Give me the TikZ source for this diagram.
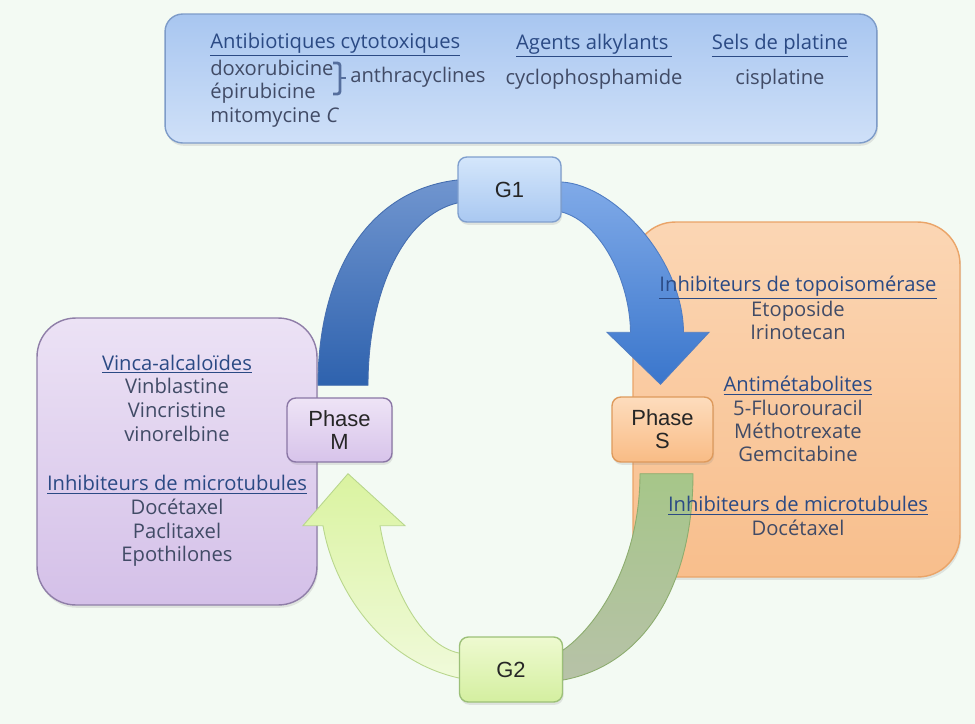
\documentclass[tikz,border=0pt]{standalone}
\usepackage{fontspec}
\setmainfont{Open Sans}
\newfontfamily\phasefont{Liberation Sans}
\usetikzlibrary{shapes,arrows.meta,positioning,backgrounds,calc,shadows}
\usepackage{xcolor}

\definecolor{paper}{HTML}{F3FAF3}
\definecolor{inkbody}{HTML}{414B66}
\definecolor{inkhead}{HTML}{2B4A84}

\pgfdeclarelayer{boxes}
\pgfdeclarelayer{bands}
\pgfsetlayers{boxes,bands,main}

\begin{document}
\begin{tikzpicture}[
    x=0.02cm, y=-0.02cm,
    softshadow/.style={drop shadow={opacity=0.18, shadow xshift=0.6pt, shadow yshift=-1.6pt}},
    panel/.style={rectangle, thick, inner sep=0pt, softshadow},
    phase/.style={rectangle, rounded corners=5pt, thick, inner sep=0pt, softshadow, font=\phasefont\fontsize{12.5}{13.2}\selectfont, text=black!85, align=center},
    head/.style={inner sep=0pt, text=inkhead, font=\fontsize{11.5}{13.2}\selectfont},
    drug/.style={inner sep=0pt, text=inkbody, align=center, font=\fontsize{11.5}{13.2}\selectfont},
    band/.style={line width=0.5pt}
]
\useasboundingbox (0,0) rectangle (975,724);

% Panels
\begin{pgfonlayer}{boxes}
\fill [paper] (0,0) rectangle (975,724);
\node (classes) [panel, rounded corners=10pt, draw={rgb,255:red,126;green,156;blue,201}, top color={rgb,255:red,168;green,198;blue,240}, bottom color={rgb,255:red,207;green,224;blue,248}, minimum width=14.24cm, minimum height=2.58cm] at (521,78.5) {};
\node (sbox) [panel, rounded corners=24pt, draw={rgb,255:red,234;green,164;blue,104}, top color={rgb,255:red,251;green,214;blue,180}, bottom color={rgb,255:red,248;green,190;blue,140}, minimum width=6.54cm, minimum height=7.1cm] at (796.5,399.5) {};
\node (mbox) [panel, rounded corners=22pt, draw={rgb,255:red,143;green,126;blue,168}, top color={rgb,255:red,236;green,226;blue,245}, bottom color={rgb,255:red,212;green,192;blue,232}, minimum width=5.6cm, minimum height=5.74cm] at (177,461.5) {};
\end{pgfonlayer}

% Phases
\node (g1) [phase, draw={rgb,255:red,127;green,159;blue,206}, top color={rgb,255:red,212;green,230;blue,251}, bottom color={rgb,255:red,169;green,200;blue,241}, minimum width=2.06cm, minimum height=1.3cm] at (509.5,189.5) {G1};
\node (g2) [phase, draw={rgb,255:red,156;green,192;blue,120}, top color={rgb,255:red,238;green,250;blue,208}, bottom color={rgb,255:red,212;green,239;blue,160}, minimum width=2.06cm, minimum height=1.3cm] at (511,669.5) {G2};
\node (m) [phase, draw={rgb,255:red,138;green,118;blue,165}, top color={rgb,255:red,238;green,228;blue,246}, bottom color={rgb,255:red,215;green,195;blue,234}, minimum width=2.1cm, minimum height=1.28cm] at (339.5,430) {Phase\\M};
\node (s) [phase, draw={rgb,255:red,222;green,154;blue,92}, top color={rgb,255:red,253;green,220;blue,189}, bottom color={rgb,255:red,249;green,188;blue,133}, minimum width=2.02cm, minimum height=1.3cm] at (662.5,429.5) {Phase\\S};

% Arrows
\begin{pgfonlayer}{bands}
% M -> G1
\path [band, draw={rgb,255:red,70;green,110;blue,175}, top color={rgb,255:red,112;green,149;blue,207}, bottom color={rgb,255:red,46;green,98;blue,174}]
  ($(m.north)+(-21.5,-12)$) .. controls (318,270) and (370,190) .. ($(g1.west)+(0,-9.5)$)
  -- ($(g1.west)+(20,-9.5)$) -- ($(g1.west)+(20,13.5)$) -- ($(g1.west)+(0,13.5)$)
  .. controls (405,215) and (368,290) .. ($(m.north)+(28.5,-12)$) -- cycle;
% G1 -> S
\path [band, draw={rgb,255:red,80;green,125;blue,195}, top color={rgb,255:red,128;green,170;blue,232}, bottom color={rgb,255:red,58;green,118;blue,204}]
  ($(g1.east)+(-20,-7.5)$) -- ($(g1.east)+(0,-7.5)$) .. controls (615,185) and (683,260) .. ($(s.north)+(21,-64)$)
  -- ($(s.north)+(46.5,-64)$) -- ($(s.north)+(-2,-12)$) -- ($(s.north)+(-55.5,-64)$) -- ($(s.north)+(-32,-64)$)
  .. controls (630,280) and (600,222) .. ($(g1.east)+(0,22.5)$) -- ($(g1.east)+(-20,22.5)$) -- cycle;
% S -> G2
\path [band, draw={rgb,255:red,140;green,172;blue,110}, top color={rgb,255:red,166;green,198;blue,137}, bottom color={rgb,255:red,183;green,194;blue,168}]
  ($(s.south)+(-22.5,11)$) .. controls (640,565) and (595,628) .. ($(g2.east)+(0,-19.5)$)
  -- ($(g2.east)+(-20,-19.5)$) -- ($(g2.east)+(-20,10.5)$) -- ($(g2.east)+(0,10.5)$)
  .. controls (645,665) and (693,585) .. ($(s.south)+(30.5,11)$) -- cycle;
% G2 -> M
\path [band, draw={rgb,255:red,184;green,214;blue,140}, top color={rgb,255:red,218;green,243;blue,160}, bottom color={rgb,255:red,240;green,250;blue,218}]
  ($(m.south)+(8.5,11)$) -- ($(m.south)+(65.5,63)$) -- ($(m.south)+(40.5,63)$)
  .. controls (390,585) and (420,645) .. ($(g2.west)+(0,-16.5)$)
  -- ($(g2.west)+(20,-16.5)$) -- ($(g2.west)+(20,8.5)$) -- ($(g2.west)+(0,8.5)$)
  .. controls (378,660) and (333,585) .. ($(m.south)+(-16.5,63)$) -- ($(m.south)+(-36.5,63)$) -- cycle;
\end{pgfonlayer}

% Labels
\node (antibio) [head, anchor=west] at (210,45) {\underline{Antibiotiques cytotoxiques}};
\node (anthra) [drug, anchor=north west, align=left] at (210,60) {doxorubicine\\épirubicine\\mitomycine \textit{C}};
\node (anthralbl) [drug, anchor=west] at (350,77) {anthracyclines};
\node (alkyl) [head] at (594,46) {\underline{Agents alkylants\,}};
\node (cyclo) [drug, below=6pt of alkyl] {cyclophosphamide};
\node (platine) [head] at (780,46) {\underline{Sels de platine}};
\node (cispl) [drug, below=6pt of platine] {cisplatine};
\draw [inkhead!80, line width=1.6pt, rounded corners=1.5pt] (333,63) -- (340,63) -- (340,94) -- (333,94);
\draw [inkhead!80, line width=1.6pt] (340,78) -- (346,78);

\node (topo) [drug] at (798,308) {\textcolor{inkhead}{\underline{Inhibiteurs de topoisomérase}}\\Etoposide\\Irinotecan};
\node (antimet) [drug] at (798,419) {\textcolor{inkhead}{\underline{Antimétabolites}}\\5-Fluorouracil\\Méthotrexate\\Gemcitabine};
\node (microS) [drug] at (798,516) {\textcolor{inkhead}{\underline{Inhibiteurs de microtubules}}\\Docétaxel};

\node (vinca) [drug, font=\fontsize{11.5}{13.5}\selectfont] at (177,398) {\textcolor{inkhead}{\underline{Vinca-alcaloïdes}}\\Vinblastine\\Vincristine\\vinorelbine};
\node (microM) [drug, font=\fontsize{11.5}{13.5}\selectfont] at (177,521) {\textcolor{inkhead}{\underline{Inhibiteurs de microtubules}}\\Docétaxel\\Paclitaxel\\Epothilones};

\end{tikzpicture}
\end{document}
